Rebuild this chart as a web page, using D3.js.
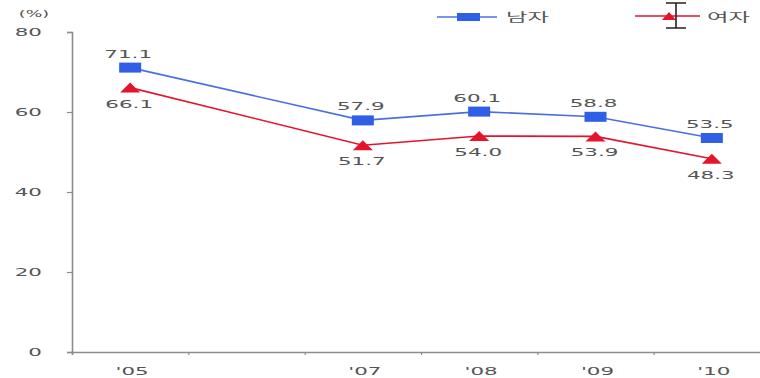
<!DOCTYPE html>
<html>
<head>
<meta charset="utf-8">
<script src="https://cdn.jsdelivr.net/npm/d3@7"></script>
<style>
  html, body { margin: 0; padding: 0; background: #fff; }
  svg { display: block; }
</style>
</head>
<body>
<svg id="chart" width="760" height="378"></svg>
<script>
// Employment-rate style series, by survey year (2006 not surveyed)
const years = [2005, 2007, 2008, 2009, 2010];
const yearLabels = ["'05", "'07", "'08", "'09", "'10"];
const male = [71.1, 57.9, 60.1, 58.8, 53.5];
const female = [66.1, 51.7, 54.0, 53.9, 48.3];
const yTicks = [0, 20, 40, 60, 80];
const seriesNames = ["남자", "여자"];
const unitLabel = "(%)";

const SX = 1.95;           // horizontal stretch applied to all text
const textColor = "#555";
const axisColor = "#8c8c8c";
const blue = "#2f5fe6", blueLine = "#4a6fe3";
const red = "#e3142b";

const svg = d3.select("#chart");

const x = d3.scaleLinear().domain([2004.5, 2010.5]).range([72, 770]);
const y = d3.scaleLinear().domain([0, 80]).range([352, 32]);

function label(g, txt, px, py, opts = {}) {
  return g.append("text")
    .attr("transform", `translate(${px},${py}) scale(${SX},1)`)
    .attr("text-anchor", opts.anchor || "middle")
    .attr("font-family", opts.family || "'DejaVu Sans', sans-serif")
    .attr("font-size", opts.size || 11)
    .attr("fill", opts.fill || textColor)
    .text(txt);
}

// Y axis
const yAxis = svg.append("g")
  .attr("transform", "translate(72,0)")
  .call(d3.axisLeft(y).tickValues(yTicks).tickSize(5).tickPadding(0).tickFormat(d3.format("d")));
yAxis.select(".domain").attr("stroke", axisColor).attr("stroke-width", 1.6);
yAxis.selectAll(".tick line").attr("stroke", axisColor).attr("stroke-width", 1.2);
yAxis.selectAll(".tick text")
  .attr("x", null)
  .attr("transform", `translate(-30,0) scale(${SX},1)`)
  .attr("font-family", "'DejaVu Sans', sans-serif")
  .attr("font-size", 11)
  .attr("fill", textColor);

// X axis: tick marks fall between the yearly slots
const xAxis = svg.append("g")
  .attr("transform", "translate(0,352)")
  .call(d3.axisBottom(x).tickValues(d3.range(2004.5, 2010.5, 1)).tickSize(3).tickFormat(""));
xAxis.select(".domain").attr("stroke", axisColor).attr("stroke-width", 1.6);
xAxis.selectAll(".tick line").attr("stroke", axisColor).attr("stroke-width", 1.2);

const xLabels = svg.append("g");
years.forEach((yr, i) => label(xLabels, yearLabels[i], x(yr) + 2, 375));

// Unit label
label(svg, unitLabel, 34, 17, { size: 9 });

// Lines
const line = d3.line().x((d, i) => x(years[i])).y(d => y(d));

svg.append("path").datum(male)
  .attr("d", line).attr("fill", "none")
  .attr("stroke", blueLine).attr("stroke-width", 1.6);
svg.append("path").datum(female)
  .attr("d", line).attr("fill", "none")
  .attr("stroke", red).attr("stroke-width", 1.6);

// Markers
const sqW = 22, sqH = 10;
svg.append("g").selectAll("rect").data(male).join("rect")
  .attr("x", (d, i) => x(years[i]) - sqW / 2)
  .attr("y", d => y(d) - sqH / 2)
  .attr("width", sqW).attr("height", sqH)
  .attr("fill", blue);

const triW = 20, triH = 10;
const tri = (cx, cy) => `M${cx - triW / 2},${cy + triH / 2}L${cx},${cy - triH / 2}L${cx + triW / 2},${cy + triH / 2}Z`;
svg.append("g").selectAll("path").data(female).join("path")
  .attr("d", (d, i) => tri(x(years[i]), y(d)))
  .attr("fill", red);

// Value labels
const vl = svg.append("g");
male.forEach((v, i) => label(vl, v.toFixed(1), x(years[i]) - 2, y(v) - 10));
female.forEach((v, i) => label(vl, v.toFixed(1), x(years[i]) - 1, y(v) + 20));

// Legend
const lg = svg.append("g");
lg.append("line").attr("x1", 437).attr("x2", 497).attr("y1", 17).attr("y2", 17)
  .attr("stroke", blueLine).attr("stroke-width", 1.6);
lg.append("rect").attr("x", 457).attr("y", 13).attr("width", 23).attr("height", 8).attr("fill", blue);
label(lg, seriesNames[0], 506, 22, { anchor: "start", size: 12, family: "'Noto Sans CJK KR', sans-serif" });

lg.append("line").attr("x1", 635).attr("x2", 700).attr("y1", 16).attr("y2", 16)
  .attr("stroke", red).attr("stroke-width", 1.6);
lg.append("path").attr("d", "M662,20L669,12L676,20Z").attr("fill", red);
// text cursor glyph beside the legend key
lg.append("path")
  .attr("d", "M666,3H686M676,3V28M666,28H686")
  .attr("fill", "none").attr("stroke", "#222").attr("stroke-width", 1.6);
label(lg, seriesNames[1], 707, 22, { anchor: "start", size: 12, family: "'Noto Sans CJK KR', sans-serif" });
</script>
</body>
</html>
